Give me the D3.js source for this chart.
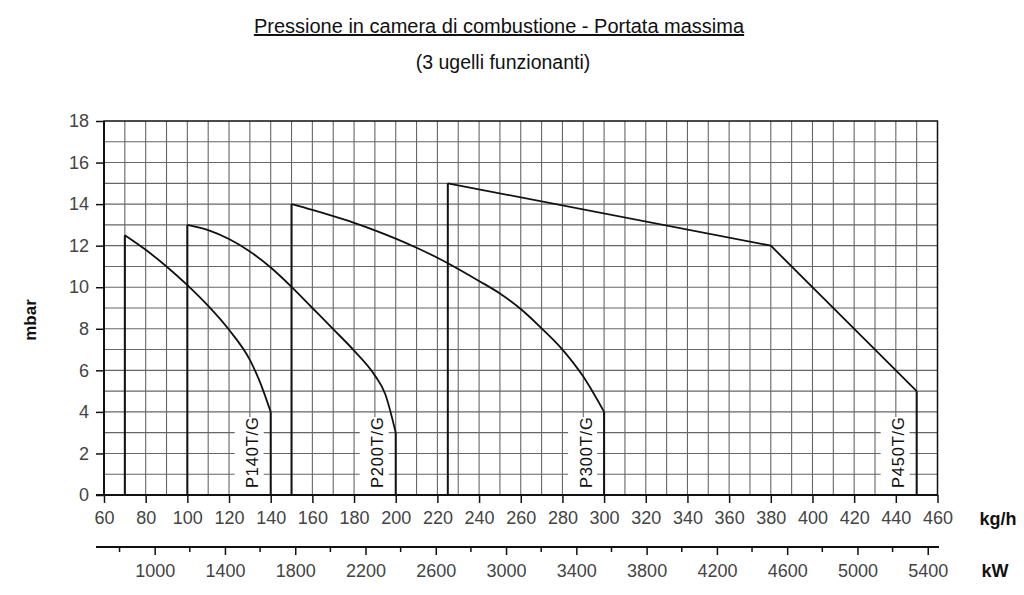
<!DOCTYPE html>
<html>
<head>
<meta charset="utf-8">
<script src="https://cdn.jsdelivr.net/npm/d3@7/dist/d3.min.js"></script>
<style>
  body { margin: 0; background: #fff; }
  svg { display: block; }
  text { font-family: "Liberation Sans", Arial, sans-serif; }
</style>
</head>
<body>
<div id="chart"></div>
<script>
// chart data (kg/h -> mbar)
const kgTicks = [60, 80, 100, 120, 140, 160, 180, 200, 220, 240, 260, 280, 300, 320, 340, 360, 380, 400, 420, 440, 460];
const mbarTicks = [0, 2, 4, 6, 8, 10, 12, 14, 16, 18];
const kwTicks = [1000, 1400, 1800, 2200, 2600, 3000, 3400, 3800, 4200, 4600, 5000, 5400];
const kwMinor = [800, 1200, 1600, 2000, 2400, 2800, 3200, 3600, 4000, 4400, 4800, 5200];
const kwPerKg = 11.86;

const labels = ["P140T/G", "P200T/G", "P300T/G", "P450T/G"];
const p140 = [[70, 12.5], [80, 11.8], [90, 11.0], [100, 10.1], [110, 9.1], [120, 7.95], [130, 6.5], [135, 5.4], [140, 4]];
const p200 = [[100, 13], [110, 12.75], [120, 12.32], [130, 11.72], [140, 10.95], [150, 10.02], [160, 9.0], [170, 7.98], [180, 6.95], [190, 5.75], [195, 4.85], [200, 3]];
const p300 = [[150, 14], [160, 13.72], [170, 13.42], [180, 13.1], [190, 12.74], [200, 12.34], [210, 11.9], [220, 11.42], [230, 10.88], [240, 10.3], [250, 9.7], [260, 8.95], [270, 8.02], [280, 7.0], [290, 5.7], [300, 4]];
const p450 = [[225, 15], [380, 12], [450, 5]];

const series = [p140, p200, p300, p450];

const width = 1024, height = 595;
const svg = d3.select("#chart").append("svg")
  .attr("width", width)
  .attr("height", height);

const x = d3.scaleLinear().domain([60, 460]).range([104, 937.5]);
const y = d3.scaleLinear().domain([0, 18]).range([495, 121]);
const xkw = d3.scaleLinear().domain([60 * kwPerKg, 460 * kwPerKg]).range([104, 937.5]);

// title
svg.append("text")
  .attr("x", 499).attr("y", 33)
  .attr("text-anchor", "middle")
  .attr("font-size", 20)
  .attr("text-decoration", "underline")
  .attr("fill", "#111")
  .text("Pressione in camera di combustione - Portata massima");

svg.append("text")
  .attr("x", 503).attr("y", 69)
  .attr("text-anchor", "middle")
  .attr("font-size", 19.5)
  .attr("fill", "#111")
  .text("(3 ugelli funzionanti)");

// grid
const grid = svg.append("g");
grid.selectAll("line.v")
  .data(d3.range(70, 460, 10))
  .enter().append("line")
  .attr("x1", d => x(d)).attr("x2", d => x(d))
  .attr("y1", y(0)).attr("y2", y(18))
  .attr("stroke", "#666").attr("stroke-width", 1.1);
grid.selectAll("line.h")
  .data(d3.range(1, 18, 1))
  .enter().append("line")
  .attr("x1", x(60)).attr("x2", x(460))
  .attr("y1", d => y(d)).attr("y2", d => y(d))
  .attr("stroke", "#666").attr("stroke-width", 1.1);

// label boxes (hide grid behind the curve names)
const ends = series.map(s => s[s.length - 1][0]);
svg.append("g").selectAll("rect")
  .data(ends)
  .enter().append("rect")
  .attr("x", d => x(d) - 36)
  .attr("y", y(3.75))
  .attr("width", 29)
  .attr("height", y(0) - y(3.75) - 1)
  .attr("fill", "#fff");

svg.append("g").selectAll("text")
  .data(ends)
  .enter().append("text")
  .attr("transform", d => "translate(" + (x(d) - 12.5) + "," + 488 + ") rotate(-90)")
  .attr("font-family", "DejaVu Sans")
  .attr("font-size", 16.5)
  .attr("letter-spacing", 0.8)
  .attr("fill", "#111")
  .text((d, i) => labels[i]);

// frame
svg.append("rect")
  .attr("x", x(60)).attr("y", y(18))
  .attr("width", x(460) - x(60))
  .attr("height", y(0) - y(18))
  .attr("fill", "none")
  .attr("stroke", "#111").attr("stroke-width", 1.5);

// axes
const xAxis = svg.append("g")
  .attr("transform", "translate(0," + y(0) + ")")
  .call(d3.axisBottom(x).tickValues(kgTicks).tickSize(8).tickSizeOuter(0).tickPadding(8).tickFormat(d3.format("d")));
xAxis.select(".domain").remove();
xAxis.selectAll("line").attr("stroke", "#111").attr("stroke-width", 1.5);
xAxis.selectAll("text").attr("font-size", 18).attr("fill", "#444").attr("font-family", "Liberation Sans");

const yAxis = svg.append("g")
  .attr("transform", "translate(" + x(60) + ",0)")
  .call(d3.axisLeft(y).tickValues(mbarTicks).tickSize(8).tickSizeOuter(0).tickPadding(7));
yAxis.select(".domain").remove();
yAxis.selectAll("line").attr("stroke", "#111").attr("stroke-width", 1.5);
yAxis.selectAll("text").attr("font-size", 18).attr("fill", "#444").attr("font-family", "Liberation Sans");

svg.append("line")
  .attr("x1", 96).attr("x2", x(460))
  .attr("y1", y(0)).attr("y2", y(0))
  .attr("stroke", "#111").attr("stroke-width", 2);
svg.append("line")
  .attr("x1", x(60)).attr("x2", x(60))
  .attr("y1", y(18)).attr("y2", y(0))
  .attr("stroke", "#111").attr("stroke-width", 2);

// kW axis
const kwY = 547;
svg.append("line")
  .attr("x1", 96).attr("x2", 939)
  .attr("y1", kwY).attr("y2", kwY)
  .attr("stroke", "#111").attr("stroke-width", 2);
const kwAxis = svg.append("g")
  .attr("transform", "translate(0," + kwY + ")")
  .call(d3.axisBottom(xkw).tickValues(kwTicks).tickSize(8).tickSizeOuter(0).tickPadding(9).tickFormat(d3.format("d")));
kwAxis.select(".domain").remove();
kwAxis.selectAll("line").attr("stroke", "#111").attr("stroke-width", 1.5);
kwAxis.selectAll("text").attr("font-size", 18).attr("fill", "#444").attr("font-family", "Liberation Sans");
svg.append("g").selectAll("line")
  .data(kwMinor)
  .enter().append("line")
  .attr("x1", d => xkw(d)).attr("x2", d => xkw(d))
  .attr("y1", kwY).attr("y2", kwY + 5)
  .attr("stroke", "#111").attr("stroke-width", 1.5);

// unit labels
svg.append("text")
  .attr("transform", "translate(36,320) rotate(-90)")
  .attr("text-anchor", "middle")
  .attr("font-size", 17).attr("font-weight", "bold")
  .attr("fill", "#111")
  .text("mbar");
svg.append("text")
  .attr("x", 998).attr("y", 525)
  .attr("text-anchor", "middle")
  .attr("font-size", 18).attr("font-weight", "bold")
  .attr("fill", "#111")
  .text("kg/h");
svg.append("text")
  .attr("x", 995).attr("y", 577)
  .attr("text-anchor", "middle")
  .attr("font-size", 18).attr("font-weight", "bold")
  .attr("fill", "#111")
  .text("kW");

// curves
const smooth = d3.line().x(d => x(d[0])).y(d => y(d[1])).curve(d3.curveMonotoneX);
const straight = d3.line().x(d => x(d[0])).y(d => y(d[1]));
const curves = svg.append("g");
series.forEach((s, i) => {
  const first = s[0], last = s[s.length - 1];
  curves.append("path")
    .attr("d", straight([[first[0], 0], first]))
    .attr("fill", "none").attr("stroke", "#111").attr("stroke-width", 2);
  curves.append("path")
    .attr("d", (i === 3 ? straight : smooth)(s))
    .attr("fill", "none").attr("stroke", "#111").attr("stroke-width", 1.8);
  curves.append("path")
    .attr("d", straight([last, [last[0], 0]]))
    .attr("fill", "none").attr("stroke", "#111").attr("stroke-width", 2);
});
</script>
</body>
</html>
